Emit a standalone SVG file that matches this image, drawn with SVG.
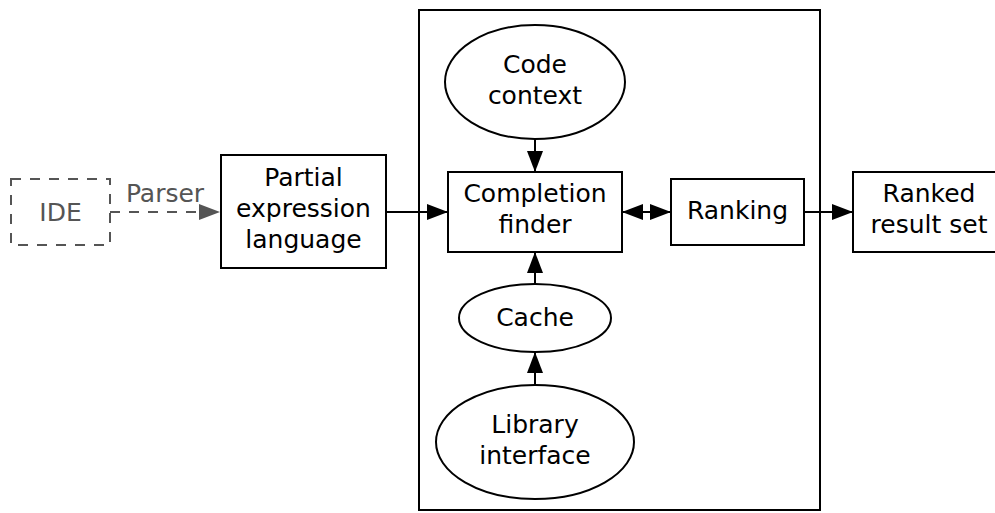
<svg xmlns="http://www.w3.org/2000/svg" width="995" height="513" viewBox="0 0 995 513">
  <style>
    .box { fill: #fff; stroke: #000; stroke-width: 2; }
    .frame { fill: none; stroke: #000; stroke-width: 2; }
    .dash { fill: none; stroke: #555; stroke-width: 2; stroke-dasharray: 10 9; }
    .edge { fill: none; stroke: #000; stroke-width: 2; }
    .edge-gray { fill: none; stroke: #555; stroke-width: 2; stroke-dasharray: 10 9; }
    text { font-family: "DejaVu Sans", sans-serif; font-size: 25px; fill: #000; text-anchor: middle; }
    .gray { fill: #555; }
  </style>
  <defs>
    <marker id="arrow" markerUnits="userSpaceOnUse" markerWidth="21" markerHeight="16" refX="21" refY="8" orient="auto-start-reverse">
      <path d="M0,0 L21,8 L0,16 Z" fill="#000"/>
    </marker>
    <marker id="arrow-gray" markerUnits="userSpaceOnUse" markerWidth="21" markerHeight="16" refX="21" refY="8" orient="auto">
      <path d="M0,0 L21,8 L0,16 Z" fill="#555"/>
    </marker>
  </defs>
  <rect width="995" height="513" fill="#fff"/>

  <!-- engine boundary -->
  <rect id="engine" class="frame" x="419" y="10" width="401" height="500"/>

  <g id="connectors">
    <line class="edge-gray" x1="110" y1="212" x2="220" y2="212" marker-end="url(#arrow-gray)"/>
    <line class="edge" x1="386" y1="212" x2="448" y2="212" marker-end="url(#arrow)"/>
    <line class="edge" x1="535" y1="139" x2="535" y2="172" marker-end="url(#arrow)"/>
    <line class="edge" x1="535" y1="284" x2="535" y2="252" marker-end="url(#arrow)"/>
    <line class="edge" x1="535" y1="385" x2="535" y2="352" marker-end="url(#arrow)"/>
    <line class="edge" x1="622" y1="212" x2="671" y2="212" marker-start="url(#arrow)" marker-end="url(#arrow)"/>
    <line class="edge" x1="804" y1="212" x2="853" y2="212" marker-end="url(#arrow)"/>
    <text class="gray" x="165" y="202">Parser</text>
  </g>

  <g id="ide">
    <rect class="dash" x="11" y="179" width="99" height="66" fill="none"/>
    <text class="gray" x="60.5" y="221">IDE</text>
  </g>

  <g id="partial-expression-language">
    <rect class="box" x="221" y="155" width="165" height="113"/>
    <text x="303.5" y="186">Partial</text>
    <text x="303.5" y="217">expression</text>
    <text x="303.5" y="248">language</text>
  </g>

  <g id="code-context">
    <ellipse class="box" cx="535" cy="82" rx="90" ry="57"/>
    <text x="535" y="73">Code</text>
    <text x="535" y="104">context</text>
  </g>

  <g id="completion-finder">
    <rect class="box" x="448" y="172" width="174" height="80"/>
    <text x="535" y="202">Completion</text>
    <text x="535" y="233">finder</text>
  </g>

  <g id="cache">
    <ellipse class="box" cx="535" cy="318" rx="76" ry="34"/>
    <text x="535" y="326">Cache</text>
  </g>

  <g id="library-interface">
    <ellipse class="box" cx="535" cy="442" rx="99" ry="57"/>
    <text x="535" y="433">Library</text>
    <text x="535" y="464">interface</text>
  </g>

  <g id="ranking">
    <rect class="box" x="671" y="179" width="133" height="66"/>
    <text x="737.5" y="219">Ranking</text>
  </g>

  <g id="ranked-result-set">
    <rect class="box" x="853" y="172" width="152" height="80"/>
    <text x="929" y="202">Ranked</text>
    <text x="929" y="233">result set</text>
  </g>
</svg>
